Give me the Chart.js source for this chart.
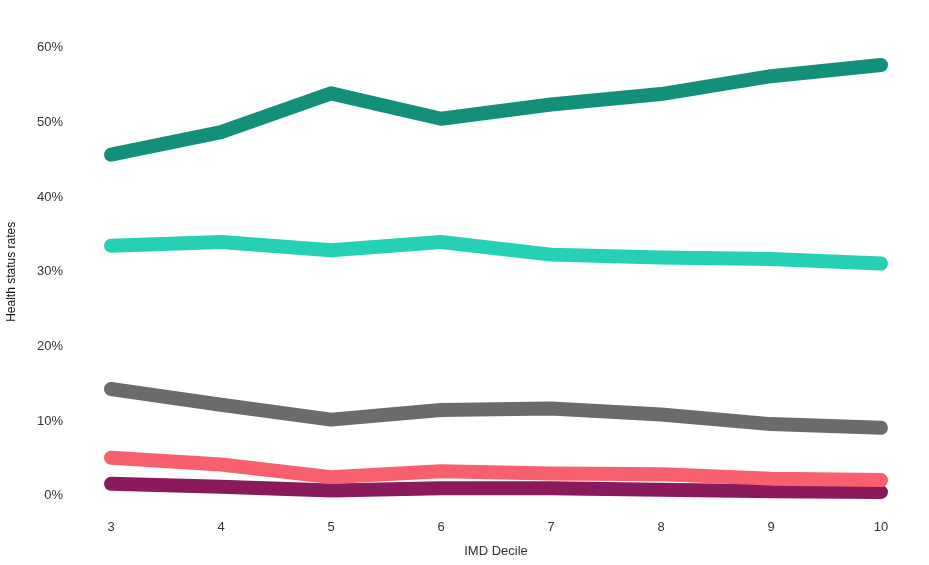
<!DOCTYPE html>
<html><head><meta charset="utf-8">
<script src="https://cdn.jsdelivr.net/npm/chart.js@4"></script>
<style>html,body{margin:0;background:#fff;overflow:hidden}#w{width:929px;height:565px}</style>
</head><body><div id="w"><canvas id="c"></canvas></div>
<script>
const deciles = ['3','4','5','6','7','8','9','10'];
const seriesA = [45.7,48.7,53.9,50.5,52.4,53.8,56.2,57.7];
const seriesB = [33.5,34.0,32.9,34.0,32.3,31.9,31.7,31.1];
const seriesC = [14.3,12.2,10.2,11.5,11.7,10.9,9.6,9.1];
const seriesD = [5.1,4.2,2.5,3.3,3.0,2.9,2.3,2.1];
const seriesE = [1.6,1.2,0.7,1.0,1.0,0.8,0.6,0.5];
const colors = ['#138f7a','#25d0b5','#6b6b6b','#f7606c','#8a1a5b'];
const mk = (d,c)=>({data:d,borderColor:c,backgroundColor:c,borderWidth:14,borderCapStyle:'round',borderJoinStyle:'round',pointRadius:0,tension:0,fill:false,clip:false});
new Chart(document.getElementById('c'),{type:'line',
data:{labels:deciles,datasets:[mk(seriesA,colors[0]),mk(seriesB,colors[1]),mk(seriesC,colors[2]),mk(seriesD,colors[3]),mk(seriesE,colors[4])]},
options:{responsive:true,maintainAspectRatio:false,animation:false,
layout:{padding:{left:0,right:48,top:-38,bottom:2}},
plugins:{legend:{display:false},tooltip:{enabled:false}},
scales:{
x:{offset:false,grid:{display:false},border:{display:false},ticks:{color:'#333',font:{family:'Liberation Sans',size:13},padding:16},
 title:{display:true,text:'IMD Decile',color:'#333',font:{family:'Liberation Sans',size:13},padding:{top:-8}}},
y:{min:0,max:60,grid:{display:false},border:{display:false},
 ticks:{stepSize:10,color:'#333',font:{family:'Liberation Sans',size:13},padding:40,callback:v=>v+'%'},
 afterFit:s=>{s.width=111},
 title:{display:true,text:'Health status rates',color:'#111',font:{family:'Liberation Sans',size:12},padding:{bottom:0}}}
}}});
</script></body></html>
